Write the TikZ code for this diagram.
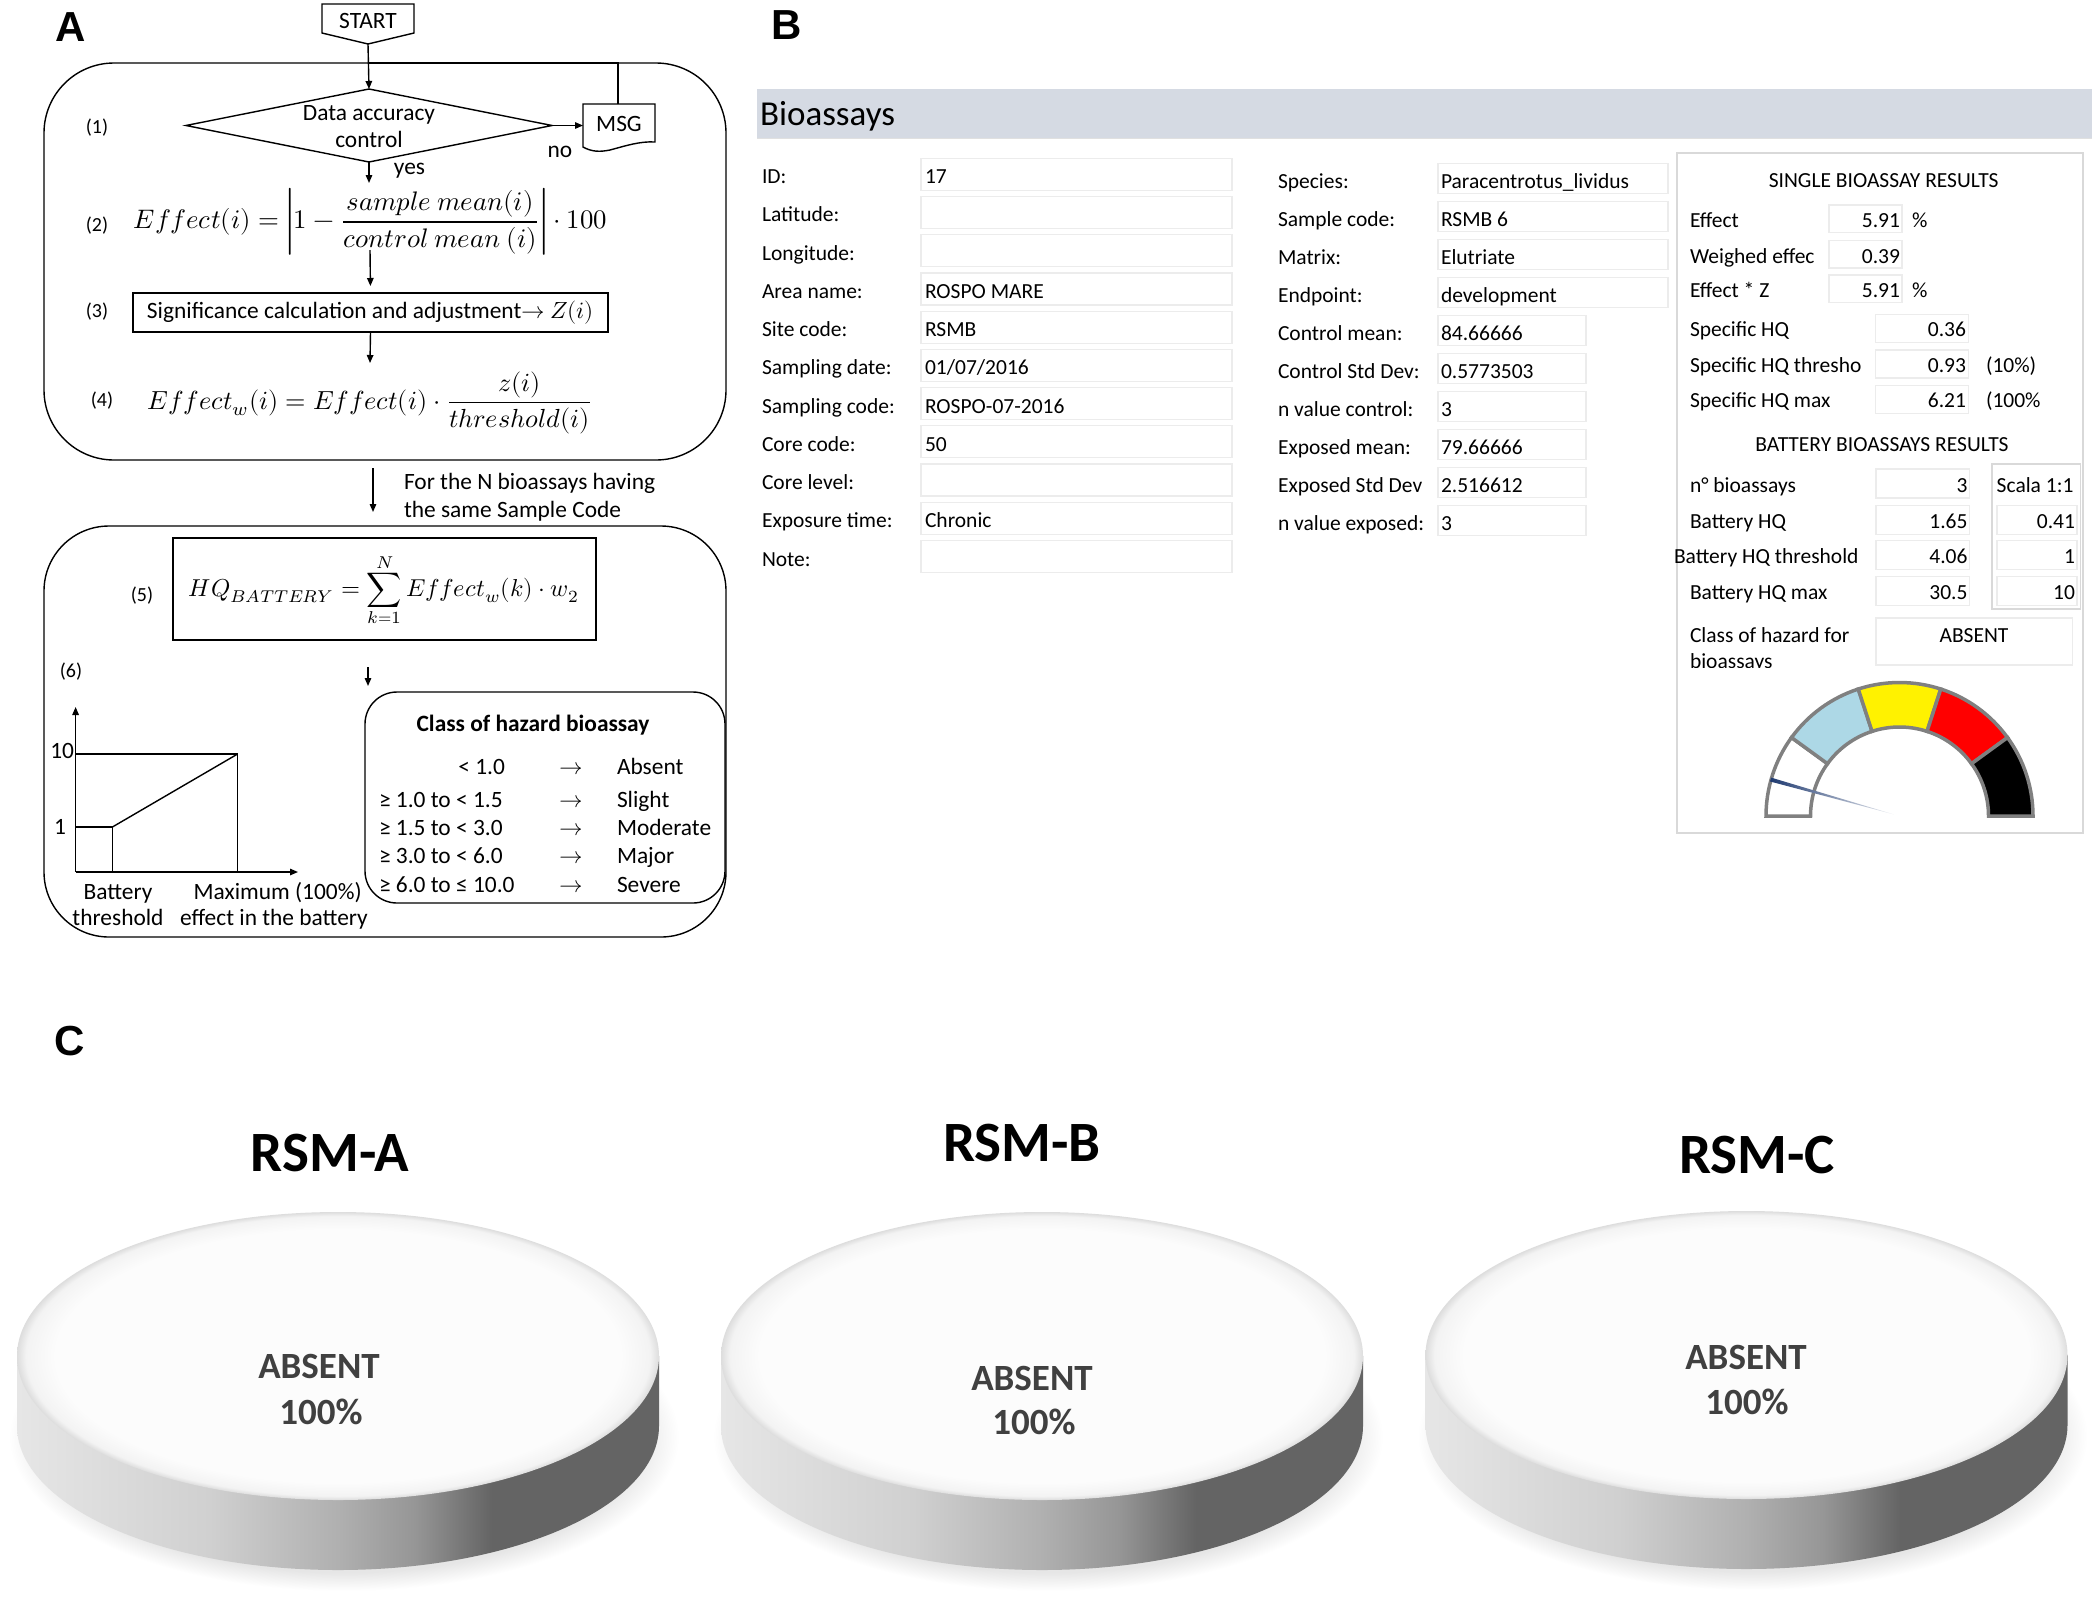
\documentclass[tikz,border=0pt]{standalone}
\usepackage{graphicx}
\usepackage{amsmath}
\usepackage{fontspec}
\usepackage{unicode-math}
\setmathfont{Latin Modern Math}
\setmainfont{Carlito}
\newfontfamily\panelfont{Liberation Sans}
\usetikzlibrary{arrows.meta,calc}

\newcommand\myfA{\fontsize{23.4}{28}\selectfont}
\newcommand\myfN{\fontsize{20}{24}\selectfont}
\newcommand\myfB{\fontsize{21.5}{26}\selectfont}
\newcommand\myfT{\fontsize{35}{40}\selectfont}
\newcommand\myfP{\panelfont\bfseries\fontsize{42}{48}\selectfont}
\newcommand\myfR{\bfseries\fontsize{57}{64}\selectfont}
\newcommand\myfD{\bfseries\fontsize{37}{44}\selectfont}

\definecolor{barblue}{HTML}{D5DAE3}
\definecolor{boxgray}{HTML}{ECECEC}
\definecolor{framegray}{HTML}{D9D9D9}
\definecolor{gaugegray}{HTML}{808080}
\definecolor{lblue}{HTML}{ADD8E6}
\definecolor{needle}{HTML}{1F3A70}
\definecolor{disctext}{HTML}{404040}
\definecolor{s1}{HTML}{E6E6E6}
\definecolor{s2}{HTML}{D0D0D0}
\definecolor{s3}{HTML}{B0B0B0}
\definecolor{s4}{HTML}{969696}
\definecolor{s5}{HTML}{646464}
\definecolor{t1}{HTML}{FCFCFC}
\definecolor{t2}{HTML}{F3F3F3}
\definecolor{t3}{HTML}{DDDDDD}
\definecolor{h1}{HTML}{E6E6E6}

\pgfdeclarehorizontalshading{sideshade}{100bp}{color(0bp)=(s1); color(25bp)=(s1); color(40bp)=(s2); color(50bp)=(s3); color(56bp)=(s4); color(62bp)=(s5); color(75bp)=(s5); color(100bp)=(s5)}
\pgfdeclareradialshading{topshade}{\pgfpoint{0bp}{0bp}}{color(0bp)=(t1); color(22bp)=(t1); color(24.3bp)=(t2); color(25bp)=(t3); color(50bp)=(t3)}
\pgfdeclareradialshading{haloshade}{\pgfpoint{0bp}{0bp}}{color(0bp)=(h1); color(22bp)=(h1); color(25bp)=(white); color(50bp)=(white)}

\tikzset{
  every node/.style={inner sep=0pt, outer sep=0pt},
  ta/.style={font=\myfA, anchor=base},
  tal/.style={font=\myfA, anchor=base west},
  tb/.style={font=\myfB, anchor=base west},
  tbr/.style={font=\myfB, anchor=base east},
  tbc/.style={font=\myfB, anchor=base},
  vbox/.style={draw=boxgray, line width=1.2pt},
  arr/.style={-{Triangle[length=8pt,width=6.5pt]}, line width=1.4pt},
  ln/.style={line width=1.4pt},
}

\newcommand\browA[4]{%
  \draw[vbox] (921,#2-18.5) rectangle (1232,#2+13.5);
  \node[tb] (#1l) at (762,#2+7) {#3};
  \node[tb] (#1v) at (925,#2+7) {#4};}
\newcommand\browB[5]{%
  \draw[vbox] (1438,#2-17.7) rectangle (#5,#2+12.3);
  \node[tb] (#1l) at (1278,#2+7) {#3};
  \node[tb] (#1v) at (1441,#2+7) {#4};}
\newcommand\mydisc[2]{%
  \begin{scope}[shift={(#1,#2)}]
    \shade[shading=haloshade] (6,81) ellipse [x radius=335, y radius=154];
    \shade[shading=sideshade] (-321,0) -- (-321,70)
       arc[start angle=180, end angle=0, x radius=321, y radius=144]
       -- (321,0) -- cycle;
    \shade[shading=topshade] (0,0) ellipse [x radius=321, y radius=144];
  \end{scope}}

\begin{document}
\begin{tikzpicture}[x=1pt,y=-1pt]
\useasboundingbox (0,0) rectangle (2096,1599);
\fill[white] (0,0) rectangle (2096,1599);

% ================= Panel A =================
\node[font=\myfP] (labA) at (71,27) {A};
\draw[ln] (322,4) -- (414,4) -- (414,33) -- (368,44) -- (322,33) -- cycle;
\node[ta] (start) at (368,28) {START};
\coordinate (startpt) at (368,44);

\node[draw, ln, rounded corners=70pt, minimum width=682pt, minimum height=397pt] (box1) at (385,261.5) {};

\coordinate (dtop) at (369,89);
\coordinate (dright) at (552,125.5);
\coordinate (dbot) at (369,162);
\coordinate (dleft) at (186,125.5);
\draw[ln] (dleft) -- (dtop) -- (dright) -- (dbot) -- cycle;
\node[ta] (dac1) at (369,120) {Data accuracy};
\node[ta] (dac2) at (369,147.5) {control};
\draw[arr] (startpt) -- (dtop);

\draw[ln] (583,104) -- (655,104) -- (655,142) .. controls (640,141) and (625,146) .. (610,150) .. controls (600,152) and (592,152) .. (583,147) -- cycle;
\node[ta] (msg) at (619,131) {MSG};
\coordinate (msgL) at (583,125.5);
\coordinate (msgT) at (618,104);
\coordinate (loopc) at (618,63);
\coordinate (loopj) at (369,63);
\draw[arr] (dright) -- (msgL);
\draw[ln] (msgT) -- (loopc) -- (loopj);
\node[ta] (no) at (560,157) {no};
\node[ta] (yes) at (409.5,174) {yes};
\coordinate (yesend) at (369,183);
\draw[arr] (dbot) -- (yesend);

\node[font=\myfN, anchor=base] (n1) at (97,133) {(1)};
\node[font=\myfN, anchor=base] (n2) at (97,231) {(2)};
\node (eq2) at (370.5,222) {\resizebox{473pt}{!}{$Effect(i)=\left|1-\dfrac{sample\ mean(i)}{control\ mean\ (i)}\right|\cdot 100$}};
\coordinate (a2s) at (370,250);
\node[font=\myfN, anchor=base] (n3) at (97,317) {(3)};
\node[draw, ln, minimum width=475pt, minimum height=39pt, font=\myfA] (box3) at (370.5,312.5) {Significance calculation and adjustment$\rightarrow$ $Z(i)$};
\draw[arr, shorten >=7pt] (a2s) -- (box3.north);
\coordinate (a3e) at (370,363);
\draw[arr] (box3.south) -- (a3e);
\node[font=\myfN, anchor=base] (n4) at (102,406) {(4)};
\node (eq4) at (370.5,403) {\resizebox{445pt}{!}{$Effect_w(i)=Effect(i)\cdot\dfrac{z(i)}{threshold(i)}$}};

\coordinate (m1) at (373,468);
\coordinate (m2) at (373,512);
\draw[arr] (m1) -- (m2);
\node[tal] (ftn1) at (404,489) {For the N bioassays having};
\node[tal] (ftn2) at (404,517) {the same Sample Code};

\node[draw, ln, rounded corners=65pt, minimum width=682pt, minimum height=411pt] (box2) at (385,731.5) {};
\node[font=\myfN, anchor=base] (n5) at (142,601) {(5)};
\node[draw, ln, minimum width=423pt, minimum height=102pt] (box5) at (384.5,589) {};
\node (eq5) at (384,590) {\resizebox{390pt}{!}{$HQ_{BATTERY}=\displaystyle\sum_{k=1}^{N}Effect_w(k)\cdot w_2$}};
\node[font=\myfN, anchor=base] (n6) at (71,677) {(6)};
\coordinate (c1) at (368,667);
\coordinate (c2) at (368,686);
\draw[arr] (c1) -- (c2);

% graph
\coordinate (O) at (75.6,872);
\coordinate (yax) at (75.6,707);
\coordinate (xax) at (298,872);
\draw[arr] (O) -- (yax);
\draw[arr] (O) -- (xax);
\draw[ln] (75.6,754) -- (237.6,754) -- (237.6,872);
\draw[ln] (75.6,827) -- (112.4,827) -- (112.4,872);
\draw[ln] (112.4,827) -- (237.6,754);
\node[font=\myfA, anchor=base east] (t10) at (74,758.5) {10};
\node[font=\myfA, anchor=base east] (t1) at (66,834) {1};
\node[ta] (bt1) at (118,899) {Battery};
\node[ta] (bt2) at (118,925) {threshold};
\node[ta] (mx1) at (277.7,899) {Maximum (100\%)};
\node[ta] (mx2) at (274,925) {effect in the battery};

% class box
\node[draw, ln, rounded corners=32pt, minimum width=360pt, minimum height=211pt] (cls) at (545,797.5) {};
\node[font=\myfA\bfseries, anchor=base] (clsT) at (533,731.7) {Class of hazard bioassay};
\node[font=\myfA, anchor=base east] (r1a) at (505,774) {< 1.0};
\node[tal] (r2a) at (379,807) {≥ 1.0 to < 1.5};
\node[tal] (r3a) at (379,835) {≥ 1.5 to < 3.0};
\node[tal] (r4a) at (379,863) {≥ 3.0 to < 6.0};
\node[tal] (r5a) at (379,892) {≥ 6.0 to ≤ 10.0};
\node[ta] (r1b) at (571.6,774) {$\rightarrow$};
\node[ta] (r2b) at (571.6,807) {$\rightarrow$};
\node[ta] (r3b) at (571.6,835) {$\rightarrow$};
\node[ta] (r4b) at (571.6,863) {$\rightarrow$};
\node[ta] (r5b) at (571.6,892) {$\rightarrow$};
\node[tal] (r1c) at (617,774) {Absent};
\node[tal] (r2c) at (617,807) {Slight};
\node[tal] (r3c) at (617,835) {Moderate};
\node[tal] (r4c) at (617,863) {Major};
\node[tal] (r5c) at (617,892) {Severe};

% ================= Panel B =================
\node[font=\myfP] (labB) at (787,25.5) {B};
\fill[barblue] (757,89) rectangle (2092,138);
\draw[white!88!black, line width=1pt] (757,138) -- (2092,138);
\node[font=\myfT, anchor=base west] (btitle) at (760,125) {Bioassays};

\browA{a0}{176.7}{ID:}{17}
\browA{a1}{214.9}{Latitude:}{}
\browA{a2}{253.2}{Longitude:}{}
\browA{a3}{291.4}{Area name:}{ROSPO MARE}
\browA{a4}{329.6}{Site code:}{RSMB}
\browA{a5}{367.9}{Sampling date:}{01/07/2016}
\browA{a6}{406.1}{Sampling code:}{ROSPO-07-2016}
\browA{a7}{444.3}{Core code:}{50}
\browA{a8}{482.5}{Core level:}{}
\browA{a9}{520.8}{Exposure time:}{Chronic}
\browA{a10}{559.0}{Note:}{}

\browB{b0}{181.0}{Species:}{Paracentrotus\_lividus}{1668}
\browB{b1}{219.0}{Sample code:}{RSMB 6}{1668}
\browB{b2}{257.1}{Matrix:}{Elutriate}{1668}
\browB{b3}{295.1}{Endpoint:}{development}{1668}
\browB{b4}{333.2}{Control mean:}{84.66666}{1586}
\browB{b5}{371.2}{Control Std Dev:}{0.5773503}{1586}
\browB{b6}{409.2}{n value control:}{3}{1586}
\browB{b7}{447.3}{Exposed mean:}{79.66666}{1586}
\browB{b8}{485.3}{Exposed Std Dev}{2.516612}{1586}
\browB{b9}{523.4}{n value exposed:}{3}{1586}

% right results panel
\draw[framegray, line width=1.2pt] (1677,153) rectangle (2083,833);
\node[tbc] (sbr) at (1883.7,187) {SINGLE BIOASSAY RESULTS};
\draw[vbox] (1829,205) rectangle (1902,232.7);
\draw[vbox] (1829,240.3) rectangle (1902,268);
\draw[vbox] (1829,275) rectangle (1902,302.7);
\node[tb] (e1l) at (1690,227.7) {Effect};
\node[tbr] (e1v) at (1900,227.7) {5.91};
\node[tb] (e1u) at (1912,227.7) {\%};
\node[tb] (e2l) at (1690,263) {Weighed effec};
\node[tbr] (e2v) at (1900,263) {0.39};
\node[tb] (e3l) at (1690,297.7) {Effect * Z};
\node[tbr] (e3v) at (1900,297.7) {5.91};
\node[tb] (e3u) at (1912,297.7) {\%};

\draw[vbox] (1875.7,314.3) rectangle (1968.3,342.3);
\draw[vbox] (1875.7,350) rectangle (1968.3,378);
\draw[vbox] (1875.7,385.7) rectangle (1968.3,413.7);
\node[tb] (h1l) at (1690,336.3) {Specific HQ};
\node[tbr] (h1v) at (1966,336.3) {0.36};
\node[tb] (h2l) at (1690,372) {Specific HQ thresho};
\node[tbr] (h2v) at (1966,372) {0.93};
\node[tb] (h2u) at (1986,372) {(10\%)};
\node[tb] (h3l) at (1690,407.7) {Specific HQ max};
\node[tbr] (h3v) at (1966,407.7) {6.21};
\node[tb] (h3u) at (1986,407.7) {(100\%};

\node[tbc] (bbr) at (1882,451) {BATTERY BIOASSAYS RESULTS};
\draw[framegray, line width=1.2pt] (1992,464) rectangle (2080.7,609);
\draw[vbox] (1876,469) rectangle (1969.3,498);
\draw[vbox] (1876,505.7) rectangle (1969.3,534.7);
\draw[vbox] (1876,540.7) rectangle (1969.3,569.7);
\draw[vbox] (1876,576.7) rectangle (1969.3,605.7);
\draw[vbox] (1997,505.7) rectangle (2077,534.7);
\draw[vbox] (1997,540.7) rectangle (2077,569.7);
\draw[vbox] (1997,576.7) rectangle (2077,605.7);
\node[tb] (g1l) at (1690,492) {n° bioassays};
\node[tbr] (g1v) at (1967.5,492) {3};
\node[tb] (g1s) at (1996.7,492) {Scala 1:1};
\node[tb] (g2l) at (1690,528.7) {Battery HQ};
\node[tbr] (g2v) at (1967.5,528.7) {1.65};
\node[tbr] (g2s) at (2075,528.7) {0.41};
\node[tb] (g3l) at (1674,563.7) {Battery HQ threshold};
\node[tbr] (g3v) at (1967.5,563.7) {4.06};
\node[tbr] (g3s) at (2075,563.7) {1};
\node[tb] (g4l) at (1690,599.7) {Battery HQ max};
\node[tbr] (g4v) at (1967.5,599.7) {30.5};
\node[tbr] (g4s) at (2075,599.7) {10};

\draw[vbox] (1876,618) rectangle (2072.7,665);
\node[tbc] (abs) at (1974,642) {ABSENT};
\node[tb] (cl1) at (1690,642) {Class of hazard for};
\begin{scope}
  \clip (1680,645) rectangle (1870,667);
  \node[tb] (cl2) at (1690,668.7) {bioassays};
\end{scope}

% gauge
\begin{scope}[shift={(1899.5,816)}, yscale=-1]
  \foreach \a/\c in {180/white,144/lblue,108/yellow,72/red,36/black}{
    \pgfmathsetmacro\b{\a-36}
    \filldraw[fill=\c, draw=gaugegray, line width=3.5pt, line join=miter]
      (\a:133.5) arc[start angle=\a, end angle=\b, radius=133.5]
      -- (\b:89) arc[start angle=\b, end angle=\a, radius=89] -- cycle;
  }
  \shade[left color=needle, middle color=needle!75, right color=needle!8]
    ($(164.2:134)+(74.2:2)$) -- ($(164.2:134)+(254.2:2)$) -- (164.2:6) -- cycle;
\end{scope}

% ================= Panel C =================
\node[font=\myfP] (labC) at (69.5,1041) {C};
\node[font=\myfR] (rsa) at (330,1153) {RSM-A};
\node[font=\myfR] (rsb) at (1022,1143) {RSM-B};
\node[font=\myfR] (rsc) at (1757,1155) {RSM-C};

\mydisc{338}{1356}
\mydisc{1042}{1356}
\mydisc{1746.5}{1355}

\node[font=\myfD, text=disctext] (dA1) at (319,1366) {ABSENT};
\node[font=\myfD, text=disctext] (dA2) at (321,1412) {100\%};
\node[font=\myfD, text=disctext] (dB1) at (1032,1378) {ABSENT};
\node[font=\myfD, text=disctext] (dB2) at (1034,1422) {100\%};
\node[font=\myfD, text=disctext] (dC1) at (1746,1357) {ABSENT};
\node[font=\myfD, text=disctext] (dC2) at (1747,1402) {100\%};
\end{tikzpicture}
\end{document}
